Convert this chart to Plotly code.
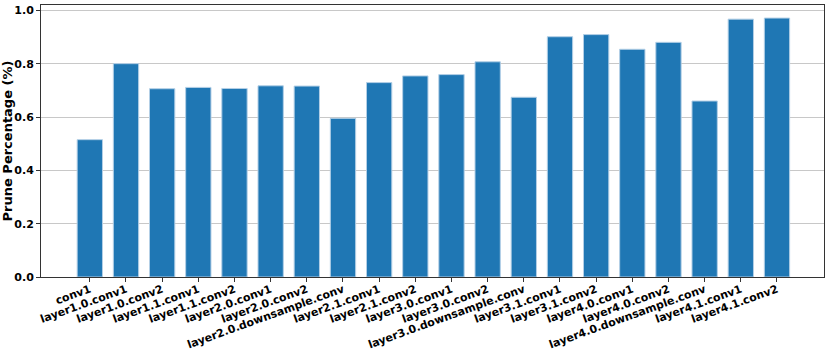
import plotly.graph_objects as go

layers = [
    "conv1", "layer1.0.conv1", "layer1.0.conv2", "layer1.1.conv1", "layer1.1.conv2",
    "layer2.0.conv1", "layer2.0.conv2", "layer2.0.downsample.conv", "layer2.1.conv1",
    "layer2.1.conv2", "layer3.0.conv1", "layer3.0.conv2", "layer3.0.downsample.conv",
    "layer3.1.conv1", "layer3.1.conv2", "layer4.0.conv1", "layer4.0.conv2",
    "layer4.0.downsample.conv", "layer4.1.conv1", "layer4.1.conv2",
]
prune_pct = [
    0.515, 0.800, 0.706, 0.711, 0.707,
    0.717, 0.716, 0.595, 0.729,
    0.754, 0.759, 0.807, 0.674,
    0.901, 0.909, 0.854, 0.880,
    0.660, 0.967, 0.971,
]
y_ticks = [0.0, 0.2, 0.4, 0.6, 0.8, 1.0]

tick_font = dict(family="DejaVu Sans", size=11, color="black", weight="bold")
title_font = dict(family="DejaVu Sans", size=13, color="black", weight="bold")

fig = go.Figure(
    go.Bar(
        x=list(range(len(layers))),
        y=prune_pct,
        width=0.7,
        marker=dict(color="#1f77b4", line=dict(color="#b3cfe6", width=1)),
    )
)

fig.update_layout(
    width=830, height=352,
    margin=dict(l=41, r=6, t=5, b=75),
    plot_bgcolor="white", paper_bgcolor="white",
    font=tick_font,
    showlegend=False,
)
fig.update_xaxes(
    range=[-1.35, 20.3],
    automargin=False,
    tickmode="array",
    tickvals=list(range(len(layers))),
    ticktext=layers,
    tickangle=-20,
    ticklabelstandoff=-3,
    ticks="outside", ticklen=4, tickcolor="#333",
    showline=True, linecolor="#333", linewidth=1, mirror=True,
    showgrid=False, zeroline=False,
    tickfont=tick_font,
)
fig.update_yaxes(
    range=[0, 1.02],
    automargin=False,
    tickmode="array",
    tickvals=y_ticks,
    ticktext=[f"{v:.1f}" for v in y_ticks],
    ticks="outside", ticklen=4, tickcolor="#333",
    showline=True, linecolor="#333", linewidth=1, mirror=True,
    showgrid=True, gridcolor="#c8c8c8", gridwidth=1, zeroline=False,
    tickfont=tick_font,
    title=dict(text="Prune Percentage (%)", font=title_font, standoff=0),
)

# drop the browser's default body margin so the figure sits at the page corner
fig.write_html(
    "out.html",
    config={"displayModeBar": False},
    post_script="document.body.style.margin = '0';",
)
